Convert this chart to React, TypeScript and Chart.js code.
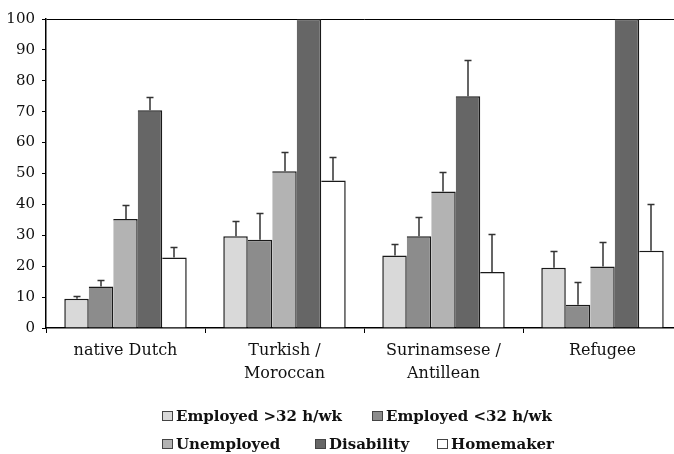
import React, { useEffect, useRef } from "react";
import { Chart, registerables } from "chart.js";

Chart.register(...registerables);

// Ethnic groups on the x axis (multi-line labels)
const categories: string[][] = [
  ["native Dutch"],
  ["Turkish /", "Moroccan"],
  ["Surinamsese /", "Antillean"],
  ["Refugee"],
];

// Percentages per employment status
const employedFull = [9.5, 29.7, 23.5, 19.5];
const employedPart = [13.4, 28.6, 29.7, 7.5];
const unemployed = [35.3, 50.7, 44.2, 19.9];
const disability = [70.5, 100, 75.0, 100];
const homemaker = [22.8, 47.7, 18.1, 25.0];

// Upper confidence limits for each bar (null = not shown)
const employedFullUpper = [10.5, 34.7, 27.1, 25.0];
const employedPartUpper = [15.4, 37.1, 35.8, 15.0];
const unemployedUpper = [39.8, 57.1, 50.4, 27.9];
const disabilityUpper: (number | null)[] = [74.7, null, 86.8, null];
const homemakerUpper = [26.3, 55.2, 30.3, 40.2];

const seriesLabels = [
  "Employed >32 h/wk",
  "Employed <32 h/wk",
  "Unemployed",
  "Disability",
  "Homemaker",
];
const seriesColors = ["#d9d9d9", "#8c8c8c", "#b3b3b3", "#666666", "#ffffff"];
const seriesValues = [employedFull, employedPart, unemployed, disability, homemaker];
const seriesUpper = [employedFullUpper, employedPartUpper, unemployedUpper, disabilityUpper, homemakerUpper];

const yTicks = [0, 10, 20, 30, 40, 50, 60, 70, 80, 90, 100];

// Legend rows: dataset indices and left start of each entry
const legendRows = [
  { items: [0, 1], starts: [162, 372], baseline: 421 },
  { items: [2, 3, 4], starts: [162, 315, 437], baseline: 449 },
];

const FONT = "'DejaVu Serif', 'Liberation Serif', serif";

const errorBars = {
  id: "errorBars",
  afterDatasetsDraw(chart: any) {
    const { ctx, chartArea } = chart;
    const y = chart.scales.y;
    ctx.save();
    ctx.beginPath();
    ctx.rect(chartArea.left, chartArea.top - 1, chartArea.right - chartArea.left, chartArea.bottom - chartArea.top + 1);
    ctx.clip();
    ctx.strokeStyle = "#333";
    ctx.lineWidth = 1.5;
    seriesUpper.forEach((upper, i) => {
      const meta = chart.getDatasetMeta(i);
      meta.data.forEach((bar: any, j: number) => {
        const u = upper[j];
        if (u == null) return;
        const yTop = Math.round(y.getPixelForValue(u)) + 0.5;
        const x = Math.round(bar.x);
        ctx.beginPath();
        ctx.moveTo(x, bar.y);
        ctx.lineTo(x, yTop);
        ctx.moveTo(x - 3.5, yTop);
        ctx.lineTo(x + 3.5, yTop);
        ctx.stroke();
      });
    });
    ctx.restore();
  },
};

const customLegend = {
  id: "customLegend",
  afterDraw(chart: any) {
    const { ctx } = chart;
    ctx.save();
    ctx.font = `bold 15px ${FONT}`;
    ctx.textBaseline = "alphabetic";
    ctx.textAlign = "left";
    legendRows.forEach((row) => {
      row.items.forEach((idx, k) => {
        const x = row.starts[k];
        const box = 10;
        ctx.fillStyle = seriesColors[idx];
        ctx.fillRect(x + 0.5, row.baseline - box + 0.5, box, box - 1);
        ctx.strokeStyle = "#444";
        ctx.lineWidth = 1;
        ctx.strokeRect(x + 0.5, row.baseline - box + 0.5, box, box - 1);
        ctx.fillStyle = "#111";
        ctx.fillText(seriesLabels[idx], x + 14, row.baseline);
      });
    });
    ctx.restore();
  },
};

export default function App() {
  const canvasRef = useRef<HTMLCanvasElement | null>(null);

  useEffect(() => {
    if (!canvasRef.current) return;
    const chart = new Chart(canvasRef.current, {
      type: "bar",
      data: {
        labels: categories as any,
        datasets: seriesValues.map((values, i) => ({
          label: seriesLabels[i],
          data: values,
          backgroundColor: seriesColors[i],
          borderColor: "#1a1a1a",
          borderWidth: { top: 1.5, right: 1.5, bottom: 0, left: i === 0 ? 1.5 : 0 },
          borderSkipped: false,
          categoryPercentage: 0.77,
          barPercentage: 1.0,
        })),
      },
      options: {
        responsive: false,
        animation: false,
        devicePixelRatio: 1,
        layout: { padding: { top: 19, left: 0, right: 0, bottom: 0 } },
        plugins: {
          legend: { display: false },
          tooltip: { enabled: false },
        },
        scales: {
          x: {
            grid: {
              offset: true,
              drawOnChartArea: false,
              tickLength: 5,
              color: "#000",
              lineWidth: 1,
            },
            border: { color: "#000", width: 1.5 },
            ticks: {
              font: { family: FONT, size: 16, lineHeight: 1.4 },
              color: "#111",
              padding: 7,
              maxRotation: 0,
              autoSkip: false,
            },
            afterFit: (s: any) => {
              s.height = 126;
            },
          },
          y: {
            min: 0,
            max: 100,
            afterBuildTicks: (s: any) => {
              s.ticks = yTicks.map((v) => ({ value: v }));
            },
            grid: {
              color: (c: any) => (c.tick && c.tick.value === 100 ? "#000" : "rgba(0,0,0,0)"),
              tickColor: "#000",
              tickLength: 4,
              lineWidth: 1,
            },
            border: { color: "#000", width: 1.5 },
            ticks: {
              font: { family: FONT, size: 15 },
              color: "#111",
              padding: 7,
            },
            afterFit: (s: any) => {
              s.width = 46;
            },
          },
        },
      },
      plugins: [errorBars, customLegend],
    });
    return () => chart.destroy();
  }, []);

  return (
    <div
      style={{
        position: "fixed",
        left: 0,
        top: 0,
        width: 674,
        height: 454,
        overflow: "hidden",
        background: "#fff",
      }}
    >
      <canvas ref={canvasRef} width={682} height={454} style={{ display: "block" }} />
    </div>
  );
}
